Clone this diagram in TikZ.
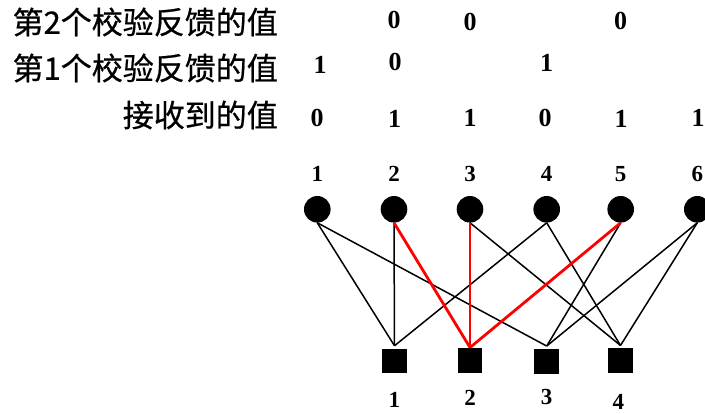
\documentclass[tikz,border=0pt]{standalone}
\usepackage{fontspec}
\setmainfont{Liberation Serif}
\newfontfamily\cjk{Noto Sans CJK SC}[FakeBold=0.6]
\begin{document}
\begin{tikzpicture}[x=1pt,y=-1pt,
  var/.style={circle, fill=black, minimum size=26.6pt, inner sep=0pt},
  chk/.style={rectangle, fill=black, minimum size=24.5pt, inner sep=0pt, outer sep=3pt},
  lab/.style={inner sep=0pt, font=\fontsize{23}{23}\selectfont\bfseries},
  val/.style={inner sep=0pt, font=\fontsize{26}{26}\selectfont\bfseries},
  rowtitle/.style={anchor=east, inner sep=0pt, font=\cjk\fontsize{31}{31}\selectfont},
  edge/.style={line width=1.5pt},
  hot/.style={red, line width=2.8pt}]
\useasboundingbox (0,0) rectangle (705,414);

% row titles
\node[rowtitle] (t2) at (278,22) {第2个校验反馈的值};
\node[rowtitle] (t1) at (278,68) {第1个校验反馈的值};
\node[rowtitle] (t0) at (278,115) {接收到的值};

% second feedback values
\node[val] (f2a) at (394,20) {0};
\node[val] (f2b) at (470,22) {0};
\node[val] (f2c) at (620.5,21) {0};

% first feedback values
\node[val] (f1a) at (320,65) {1};
\node[val] (f1b) at (395,62) {0};
\node[val] (f1c) at (546.5,63) {1};

% received values
\node[val] (r1) at (317,118) {0};
\node[val] (r2) at (394.5,119) {1};
\node[val] (r3) at (470,118) {1};
\node[val] (r4) at (545,118) {0};
\node[val] (r5) at (621,119) {1};
\node[val] (r6) at (698,118) {1};

% variable nodes
\foreach \i/\x in {1/317.3, 2/394, 3/470, 4/546.7, 5/620.7, 6/697.3} {
  \node[lab] (n\i) at (\x,174) {\i};
  \node[var] (v\i) at (\x,209.3) {};
}

% check nodes
\node[chk] (c1) at (394.5,361) {};
\node[chk, outer sep=0.5pt] (c2) at (470,360.3) {};
\node[chk] (c3) at (546.7,361.3) {};
\node[chk] (c4) at (620.5,360.7) {};

\node[lab] (m1) at (394.3,400) {1};
\node[lab] (m2) at (470,398) {2};
\node[lab] (m3) at (546.7,396.7) {3};
\node[lab] (m4) at (618.3,402) {4};

% edges of the graph
\draw[edge] (v1.south) -- (c1.north);
\draw[edge] (v1.south) -- (c3.north);
\draw[edge] (v2.south) -- (c1.north);
\draw[edge] (v3.south) -- (c4.north);
\draw[edge] (v4.south) -- (c1.north);
\draw[edge] (v4.south) -- (c4.north);
\draw[edge] (v5.south) -- (c3.north);
\draw[edge] (v6.south) -- (c3.north);
\draw[edge] (v6.south) -- (c4.north);

% highlighted edges into check 2
\draw[hot] (v2.south) -- (c2.north);
\draw[hot] (v3.south) -- (c2.north);
\draw[hot] (v5.south) -- (c2.north);
\end{tikzpicture}
\end{document}
